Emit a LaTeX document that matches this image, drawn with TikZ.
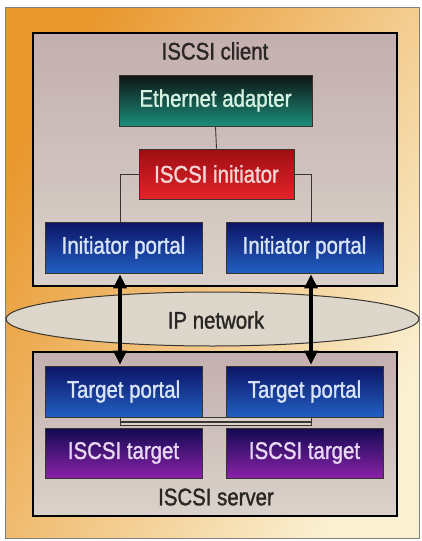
\documentclass[tikz,border=0pt]{standalone}
\usepackage{fontspec}
\setmainfont{Liberation Sans}[FakeStretch=0.85,FakeBold=1.3]
\usetikzlibrary{arrows.meta,shapes.geometric}
\definecolor{orangeA}{HTML}{E9982E}
\definecolor{orangeB}{HTML}{FAF0D2}
\definecolor{boxA}{HTML}{C3AFAF}
\definecolor{boxB}{HTML}{DAD2CA}
\definecolor{netfill}{HTML}{DCD7CA}
\definecolor{ethA}{HTML}{0E1412}
\definecolor{ethB}{HTML}{1B8E7C}
\definecolor{redA}{HTML}{9E0E12}
\definecolor{redB}{HTML}{E2242A}
\definecolor{blueA}{HTML}{0C1466}
\definecolor{blueB}{HTML}{2260C2}
\definecolor{purA}{HTML}{120A52}
\definecolor{purB}{HTML}{8A22A8}
\definecolor{txtG}{HTML}{D6F2E2}
\definecolor{txtR}{HTML}{F4D6D6}
\definecolor{txtB}{HTML}{D8E4F8}
\definecolor{txtP}{HTML}{E8D8F4}
\definecolor{linec}{HTML}{3A3430}
\definecolor{darktxt}{HTML}{2A2624}
\begin{document}
\begin{tikzpicture}[x=1pt,y=-1pt,
  every node/.style={font=\fontsize{24}{26}\selectfont,text=darktxt},
  frame/.style={draw=black,line width=2pt,top color=boxA,bottom color=boxB},
  blk/.style={draw=linec,line width=0.8pt,minimum height=51pt,inner sep=0pt},
  ethbox/.style={blk,minimum width=193pt,top color=ethA,bottom color=ethB,text=txtG},
  redbox/.style={blk,minimum width=155pt,minimum height=50pt,top color=redA,bottom color=redB,text=txtR},
  bluebox/.style={blk,minimum width=157pt,top color=blueA,bottom color=blueB,text=txtB},
  purbox/.style={blk,minimum width=157pt,minimum height=50pt,top color=purA,bottom color=purB,text=txtP},
  thin/.style={draw=linec,line width=0.9pt},
  big/.style={line width=3.2pt,{Triangle[length=14pt,width=13pt]}-{Triangle[length=14pt,width=13pt]}}
]
\useasboundingbox (0,0) rectangle (421,541);
\fill[white] (0,0) rectangle (421,541);
% background frame
\shade[left color=orangeA,right color=orangeB,shading angle=60] (5,7) rectangle (419,538);
\draw[gray,line width=0.6pt] (5,7) rectangle (419,538);

% client box
\node[frame,minimum width=364pt,minimum height=253pt,inner sep=0pt] (client) at (215,159.5) {};
\node (ctitle) at (215,51) {ISCSI client};

\node[ethbox] (eth) at (215.5,100.5) {Ethernet adapter};
\node[redbox] (init) at (216.5,174) {ISCSI initiator};
\node[bluebox] (ip1) at (123.5,247.5) {Initiator portal};
\node[bluebox] (ip2) at (304.5,247.5) {Initiator portal};

\coordinate (L) at (120,0);
\coordinate (R) at (311,0);

\draw[thin] (eth.south) -- (init.north);
\draw[thin] (init.west) -| (L |- ip1.north);
\draw[thin] (init.east) -| (R |- ip2.north);

% IP network
\node[ellipse,draw=linec,line width=1pt,fill=netfill,minimum width=413pt,minimum height=54pt,inner sep=0pt] (net) at (212.5,319) {};
\node (nettxt) at (216,320) {IP network};

% server box
\node[frame,minimum width=364pt,minimum height=164pt,inner sep=0pt] (server) at (215,434) {};
\node (stitle) at (216,497) {ISCSI server};

\node[bluebox] (tp1) at (123.5,391.5) {Target portal};
\node[bluebox] (tp2) at (304.5,391.5) {Target portal};
\node[purbox] (tg1) at (123.5,453) {ISCSI target};
\node[purbox] (tg2) at (304.5,453) {ISCSI target};

% connector bar between target portals
\draw[draw=linec,line width=0.8pt,fill=boxB] (L |- tp1.south) rectangle ([yshift=-8pt]R |- tp2.south);
\draw[linec,line width=1.2pt] ([yshift=-4.5pt]L |- tp1.south) -- ([yshift=-4.5pt]R |- tp2.south);

% arrows
\draw[big] ([yshift=-1pt]L |- ip1.south) -- ([yshift=1pt]L |- tp1.north);
\draw[big] ([yshift=-1pt]R |- ip2.south) -- ([yshift=1pt]R |- tp2.north);
\end{tikzpicture}
\end{document}
